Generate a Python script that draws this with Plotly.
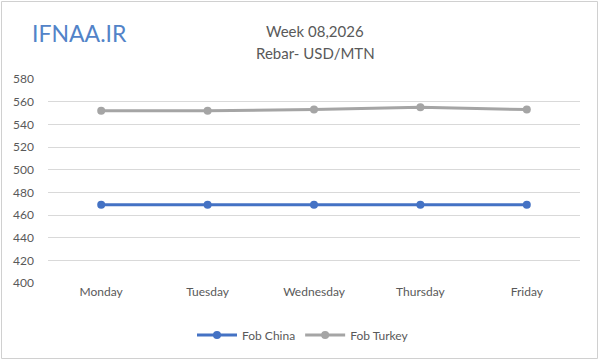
import plotly.graph_objects as go

days = ["Monday", "Tuesday", "Wednesday", "Thursday", "Friday"]
fob_china = [469, 469, 469, 469, 469]
fob_turkey = [552, 552, 553, 555, 553]
y_ticks = [400, 420, 440, 460, 480, 500, 520, 540, 560, 580]

W, H = 600, 361
L, R, T, B = 48, 20, 79, 78
pw, ph = W - L - R, H - T - B

def px(x):
    return (x - L) / pw

def py(y):
    return (H - B - y) / ph

font = "Lato, 'Open Sans', sans-serif"
grey = "#595959"

fig = go.Figure()
fig.add_trace(go.Scatter(x=days, y=fob_china, name="Fob China", mode="lines+markers",
                         line=dict(color="#4472C4", width=3), marker=dict(size=8, color="#4472C4")))
fig.add_trace(go.Scatter(x=days, y=fob_turkey, name="Fob Turkey", mode="lines+markers",
                         line=dict(color="#A5A5A5", width=3), marker=dict(size=8, color="#A5A5A5")))

fig.update_layout(
    width=W, height=H,
    margin=dict(l=L, r=R, t=T, b=B),
    paper_bgcolor="white", plot_bgcolor="white",
    font=dict(family=font, size=12, color=grey),
    showlegend=True,
    legend=dict(orientation="h", x=px(303), xanchor="center", y=py(335), yanchor="middle",
                font=dict(size=12, color=grey), itemwidth=40),
    xaxis=dict(range=[-0.5, 4.5], showgrid=False, showline=False, ticks="",
               tickfont=dict(size=12, color=grey)),
    yaxis=dict(range=[400, 580], tickvals=y_ticks, showgrid=True, gridcolor="#D9D9D9",
               gridwidth=1, zeroline=False, showline=False, ticks="", ticklabelstandoff=13,
               tickfont=dict(size=12, color=grey)),
    annotations=[
        dict(text="Week 08,2026", xref="paper", yref="paper", x=px(315), y=py(31),
             xanchor="center", yanchor="middle", showarrow=False,
             font=dict(size=15, color=grey, family=font)),
        dict(text="Rebar- USD/MTN", xref="paper", yref="paper", x=px(315), y=py(53),
             xanchor="center", yanchor="middle", showarrow=False,
             font=dict(size=15, color=grey, family=font)),
        dict(text="IFNAA.IR", xref="paper", yref="paper", x=px(79), y=py(33),
             xanchor="center", yanchor="middle", showarrow=False,
             font=dict(size=23, color="#5283C8", family=font)),
    ],
    shapes=[
        dict(type="rect", xref="paper", yref="paper", x0=px(1.5), x1=px(597.5),
             y0=py(1.5), y1=py(358.5), line=dict(color="#D0D0D0", width=1)),
    ],
)

fig.write_html("out.html")
